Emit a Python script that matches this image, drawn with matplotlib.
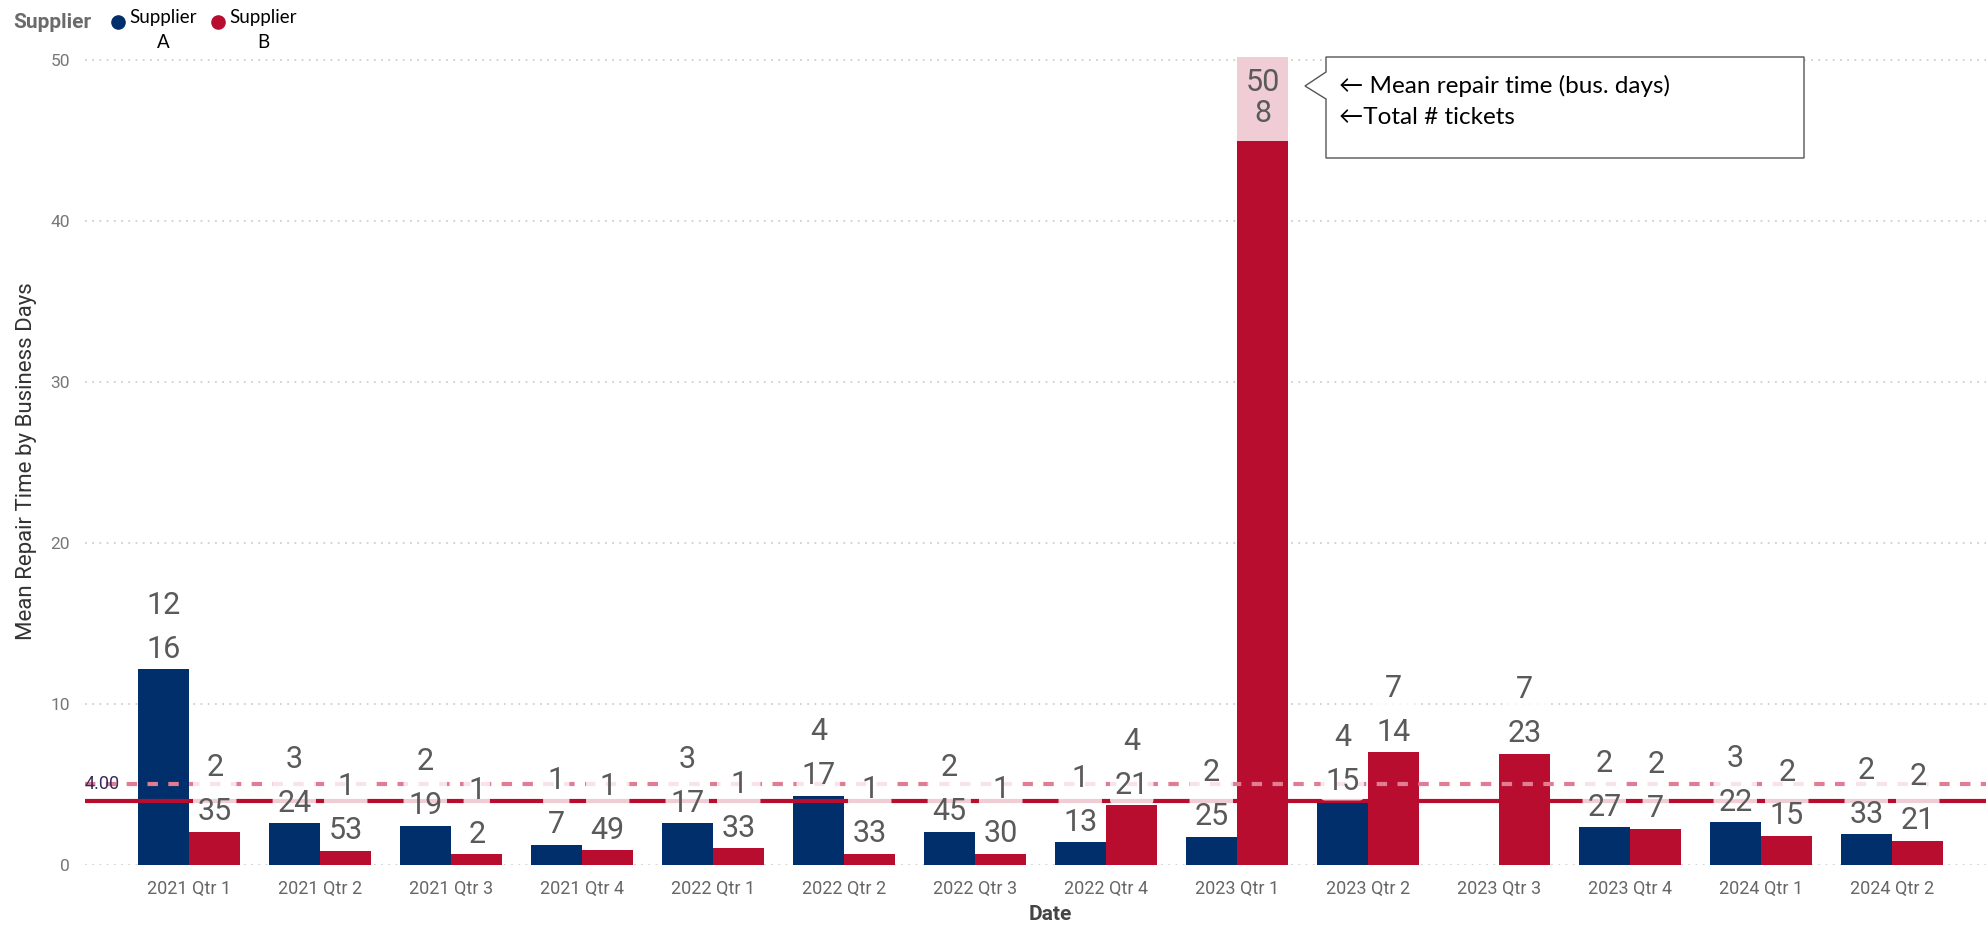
import numpy as np
import matplotlib.pyplot as plt
from matplotlib.patches import Polygon, Rectangle
from matplotlib.lines import Line2D

# data
quarters = ['2021 Qtr 1', '2021 Qtr 2', '2021 Qtr 3', '2021 Qtr 4',
            '2022 Qtr 1', '2022 Qtr 2', '2022 Qtr 3', '2022 Qtr 4',
            '2023 Qtr 1', '2023 Qtr 2', '2023 Qtr 3', '2023 Qtr 4',
            '2024 Qtr 1', '2024 Qtr 2']
mean_a = [12.15, 2.6, 2.45, 1.25, 2.6, 4.3, 2.05, 1.4, 1.75, 3.95, np.nan, 2.35, 2.65, 1.9]
mean_b = [2.05, 0.87, 0.67, 0.92, 1.04, 0.70, 0.69, 3.7, 50.4, 7.0, 6.9, 2.25, 1.8, 1.5]
label_a = ['12', '3', '2', '1', '3', '4', '2', '1', '2', '4', '', '2', '3', '2']
label_b = ['2', '1', '1', '1', '1', '1', '1', '4', '50', '7', '7', '2', '2', '2']
tickets_a = [16, 24, 19, 7, 17, 17, 45, 13, 25, 15, None, 27, 22, 33]
tickets_b = [35, 53, 2, 49, 33, 33, 30, 21, 8, 14, 23, 7, 15, 21]
target_line = 4.0
avg_line = 5.05
yticks = [0, 10, 20, 30, 40, 50]

NAVY = '#012F6B'
RED = '#B80D2F'
W, H = 1986, 926
YTOP = 50.2

plt.rcParams['font.family'] = ['Roboto', 'DejaVu Sans']

fig = plt.figure(figsize=(W / 100, H / 100), dpi=100)
ax = fig.add_axes([85 / W, (H - 865) / H, (W - 85) / W, (865 - 57) / H])

x = np.arange(len(quarters))
bw = 0.393
ax.bar(x - bw / 2, mean_a, bw, color=NAVY, zorder=2)
ax.bar(x + bw / 2, mean_b, bw, color=RED, zorder=2)

ax.set_xlim((85 - 189) / 131, (W - 189) / 131)
ax.set_ylim(0, YTOP)

ax.axhline(target_line, color=RED, lw=3, zorder=3, solid_capstyle='round')
ax.axhline(avg_line, color='#e07d92', lw=3, ls=(0, (2.5, 2.5)), zorder=3)
ax.text(0, avg_line, '4.00', transform=ax.get_yaxis_transform(), color='#3b2a5a',
        fontsize=13, va='center', ha='left', zorder=5)

for s in ax.spines.values():
    s.set_visible(False)
ax.set_yticks(yticks)
ax.yaxis.grid(True, color='#cfcfcf', lw=1.3, ls=(0, (1, 3)))
ax.set_axisbelow(True)
ax.tick_params(axis='y', length=0, pad=11, labelsize=12.5, labelcolor='#777777')
ax.set_xticks(x)
ax.set_xticklabels(quarters)
ax.tick_params(axis='x', length=0, pad=11, labelsize=13, labelcolor='#666666')

z = 5
for i in range(len(quarters)):
    for off, v, m, t in ((-bw / 2, mean_a[i], label_a[i], tickets_a[i]),
                         (bw / 2, mean_b[i], label_b[i], tickets_b[i])):
        if t is None or np.isnan(v):
            continue
        txt = f'{m}\n{t}'
        if v > YTOP - 7:
            # label sits inside the top of a bar that runs off the axis
            ax.add_patch(Rectangle((i + off - bw / 2, YTOP - 5.2), bw, 5.2, fc='white',
                                   ec='none', alpha=0.8, zorder=z))
            ax.annotate(txt, (i + off, YTOP), xytext=(0, -8), textcoords='offset points',
                        ha='center', va='top', fontsize=22, color='#5a5a5a',
                        linespacing=1.1, zorder=z + 1)
        else:
            ax.annotate(txt, (i + off, v), xytext=(0, 4), textcoords='offset points',
                        ha='center', va='bottom', fontsize=22, color='#5a5a5a',
                        linespacing=1.65, zorder=z,
                        bbox=dict(boxstyle='round,pad=0.15', fc='white', ec='none', alpha=0.8))
        z += 2

# axis titles
fig.text(27 / W, 1 - 461 / H, 'Mean Repair Time by Business Days', rotation=90,
         ha='center', va='center', fontsize=16, color='#333333')
fig.text(1050 / W, 1 - 915 / H, 'Date', ha='center', va='center',
         fontsize=15, color='#444444', fontweight='bold')

# legend
fig.text(13 / W, 1 - 23 / H, 'Supplier', fontsize=15, fontweight='bold', color='#6b6b6b',
         ha='left', va='center')
for cx, col, name in ((118, NAVY, 'A'), (218, RED, 'B')):
    fig.add_artist(Line2D([cx / W], [1 - 22 / H], marker='o', markersize=9.5, color=col,
                          lw=0, transform=fig.transFigure))
    fig.text((cx + 45) / W, 1 - 18 / H, 'Supplier', fontsize=13.5, color='black',
             ha='center', va='center', family='Lato')
    fig.text((cx + 45) / W, 1 - 42 / H, name, fontsize=13.5, color='black',
             ha='center', va='center', family='Lato')

# callout box
pts = [(1326, 57), (1804, 57), (1804, 158), (1326, 158), (1326, 99), (1305, 86), (1326, 72)]
fig.add_artist(Polygon([(px / W, 1 - py / H) for px, py in pts], closed=True,
                       fc='white', ec='#555555', lw=1, transform=fig.transFigure, zorder=10))
fig.text(1339 / W, 1 - 86 / H, '\u2190 Mean repair time (bus. days)', fontsize=17.5,
         family=['Lato', 'DejaVu Sans'], va='center', ha='left', zorder=11)
fig.text(1339 / W, 1 - 117 / H, '\u2190Total # tickets', fontsize=17.5,
         family=['Lato', 'DejaVu Sans'], va='center', ha='left', zorder=11)

fig.savefig('out.png', dpi=100)
